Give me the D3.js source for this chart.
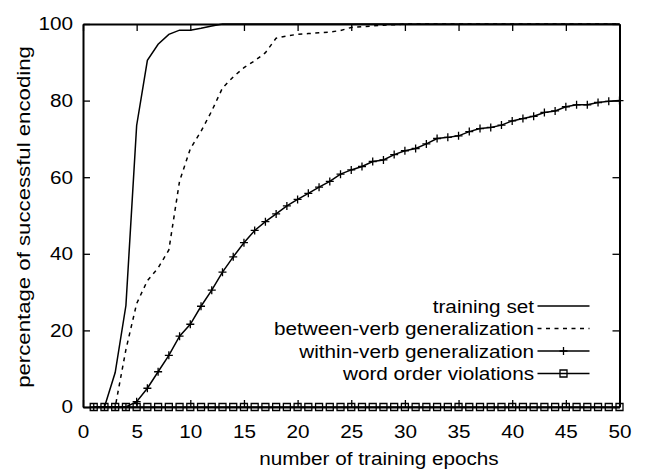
<!DOCTYPE html>
<html>
<head>
<meta charset="utf-8">
<script src="https://cdn.jsdelivr.net/npm/d3@7/dist/d3.min.js"></script>
<style>
  body { margin: 0; background: #fff; }
  svg { display: block; font-family: "Liberation Sans", Arial, sans-serif; }
  text { font-size: 18.5px; fill: #000; }
</style>
</head>
<body>
<svg width="645" height="469"></svg>
<script>
// epochs on the x axis
var epochs = [1,2,3,4,5,6,7,8,9,10,11,12,13,14,15,16,17,18,19,20,21,22,23,24,25,
	26,27,28,29,30,31,32,33,34,35,36,37,38,39,40,41,42,43,44,45,46,47,48,49,50];

// percentage of successful encoding, one value per epoch
var trainingSet = [0,0,9,26.5,73.5,90.5,94.7,97.3,98.4,98.4,98.9,99.5,100,100,100,100,100,100,100,100,
	100,100,100,100,100,100,100,100,100,100,100,100,100,100,100,100,100,100,100,100,
	100,100,100,100,100,100,100,100,100,100];
var betweenVerb = [0,0,0,15,27,33,36.3,41,59,67.4,72,77.3,83.3,86.2,88.6,90.4,92.5,96.3,96.9,97.3,
	97.5,97.7,97.9,98.3,99.1,99.3,99.5,99.7,99.8,100,100,100,100,100,100,100,100,100,100,100,
	100,100,100,100,100,100,100,100,100,100];
var withinVerb = [0,0,0,0,1.4,4.9,9.2,13.5,18.5,21.6,26.3,30.5,35.2,39.2,42.9,46.1,48.4,50.4,52.5,54.2,
	55.8,57.4,58.9,60.8,61.9,62.8,64.1,64.5,65.9,66.9,67.5,68.7,70.1,70.4,70.8,71.9,72.7,73,73.6,74.7,
	75.3,75.9,76.9,77.3,78.4,78.9,78.9,79.5,79.8,80];
var orderViolations = [0,0,0,0,0,0,0,0,0,0,0,0,0,0,0,0,0,0,0,0,0,0,0,0,0,
	0,0,0,0,0,0,0,0,0,0,0,0,0,0,0,0,0,0,0,0,0,0,0,0,0];

var xTicks = [0,5,10,15,20,25,30,35,40,45,50];
var yTicks = [0,20,40,60,80,100];

var seriesNames = ["training set", "between-verb generalization",
	"within-verb generalization", "word order violations"];

var svg = d3.select("svg");
var plotLeft = 83, plotRight = 619.5, plotTop = 24, plotBottom = 407;
var stretch = 1.12; // the original lettering is a bit wider than Arial

var x = d3.scaleLinear().domain([0, 50]).range([plotLeft, plotRight]);
var y = d3.scaleLinear().domain([0, 100]).range([plotBottom, plotTop]);

function widen(sel) { // move x/y into a transform so the glyphs can be stretched
	sel.each(function() {
		var t = d3.select(this);
		var tx = +t.attr("x") || 0, ty = +t.attr("y") || 0;
		t.attr("x", 0).attr("y", 0)
			.attr("transform", "translate(" + tx + "," + ty + ") scale(" + stretch + ",1)");
	});
}

function styleAxis(g) {
	g.select(".domain").attr("stroke", "#000").attr("stroke-width", 2);
	g.selectAll(".tick line").attr("stroke", "#000").attr("stroke-width", 1.3);
	g.selectAll("text").attr("font-size", null).attr("font-family", null);
}

// axes, ticks pointing inwards on all four sides
var gx = svg.append("g").attr("transform", "translate(0," + plotBottom + ")")
	.call(d3.axisBottom(x).tickValues(xTicks).tickSizeInner(-7).tickSizeOuter(0).tickPadding(18))
	.call(styleAxis);
widen(gx.selectAll("text"));

var gy = svg.append("g").attr("transform", "translate(" + plotLeft + ",0)")
	.call(d3.axisLeft(y).tickValues(yTicks).tickSizeInner(-7).tickSizeOuter(0).tickPadding(10))
	.call(styleAxis);
widen(gy.selectAll("text"));

svg.append("g").attr("transform", "translate(0," + plotTop + ")")
	.call(d3.axisTop(x).tickValues(xTicks).tickSizeInner(-7).tickSizeOuter(0).tickFormat(""))
	.call(styleAxis);
svg.append("g").attr("transform", "translate(" + plotRight + ",0)")
	.call(d3.axisRight(y).tickValues(yTicks).tickSizeInner(-7).tickSizeOuter(0).tickFormat(""))
	.call(styleAxis);

// axis titles
svg.append("text")
	.attr("text-anchor", "middle")
	.attr("transform", "translate(379,465) scale(" + stretch + ",1)")
	.text("number of training epochs");
svg.append("text")
	.attr("text-anchor", "middle")
	.attr("transform", "translate(30,217) rotate(-90) scale(1.2,1)")
	.text("percentage of successful encoding");

// curves
var line = d3.line()
	.x(function(d) { return x(d[0]); })
	.y(function(d) { return y(d[1]); });

function pairs(vals) { return epochs.map(function(e, i) { return [e, vals[i]]; }); }

var plus = "M-4,0H4M0,-4V4";
var square = "M-3.5,-3.5H3.5V3.5H-3.5Z";

var series = [
	{ name: seriesNames[0], values: trainingSet, dash: null, marker: null },
	{ name: seriesNames[1], values: betweenVerb, dash: "4,4.5", marker: null },
	{ name: seriesNames[2], values: withinVerb, dash: null, marker: plus },
	{ name: seriesNames[3], values: orderViolations, dash: null, marker: square }
];

var plot = svg.append("g");
series.forEach(function(s) {
	plot.append("path")
		.datum(pairs(s.values))
		.attr("fill", "none")
		.attr("stroke", "#000")
		.attr("stroke-width", 1.5)
		.attr("stroke-dasharray", s.dash)
		.attr("d", line);
	if (s.marker) {
		plot.selectAll(null)
			.data(pairs(s.values))
			.enter().append("path")
			.attr("transform", function(d) { return "translate(" + x(d[0]) + "," + y(d[1]) + ")"; })
			.attr("d", s.marker)
			.attr("fill", "none")
			.attr("stroke", "#000")
			.attr("stroke-width", 1.3);
	}
});

// legend, stacked above the x axis
var legend = svg.append("g");
var lx0 = 537.5, lx1 = 589.5, ly0 = 306, lstep = 22.5;
series.forEach(function(s, i) {
	var ly = ly0 + i * lstep;
	legend.append("text")
		.attr("text-anchor", "end")
		.attr("transform", "translate(534," + (ly + 6.5) + ") scale(" + stretch + ",1)")
		.text(s.name);
	legend.append("line")
		.attr("x1", lx0).attr("x2", lx1).attr("y1", ly).attr("y2", ly)
		.attr("stroke", "#000").attr("stroke-width", 1.5)
		.attr("stroke-dasharray", s.dash);
	if (s.marker) {
		legend.append("path")
			.attr("transform", "translate(" + ((lx0 + lx1) / 2) + "," + ly + ")")
			.attr("d", s.marker)
			.attr("fill", "none").attr("stroke", "#000").attr("stroke-width", 1.3);
	}
});
</script>
</body>
</html>
